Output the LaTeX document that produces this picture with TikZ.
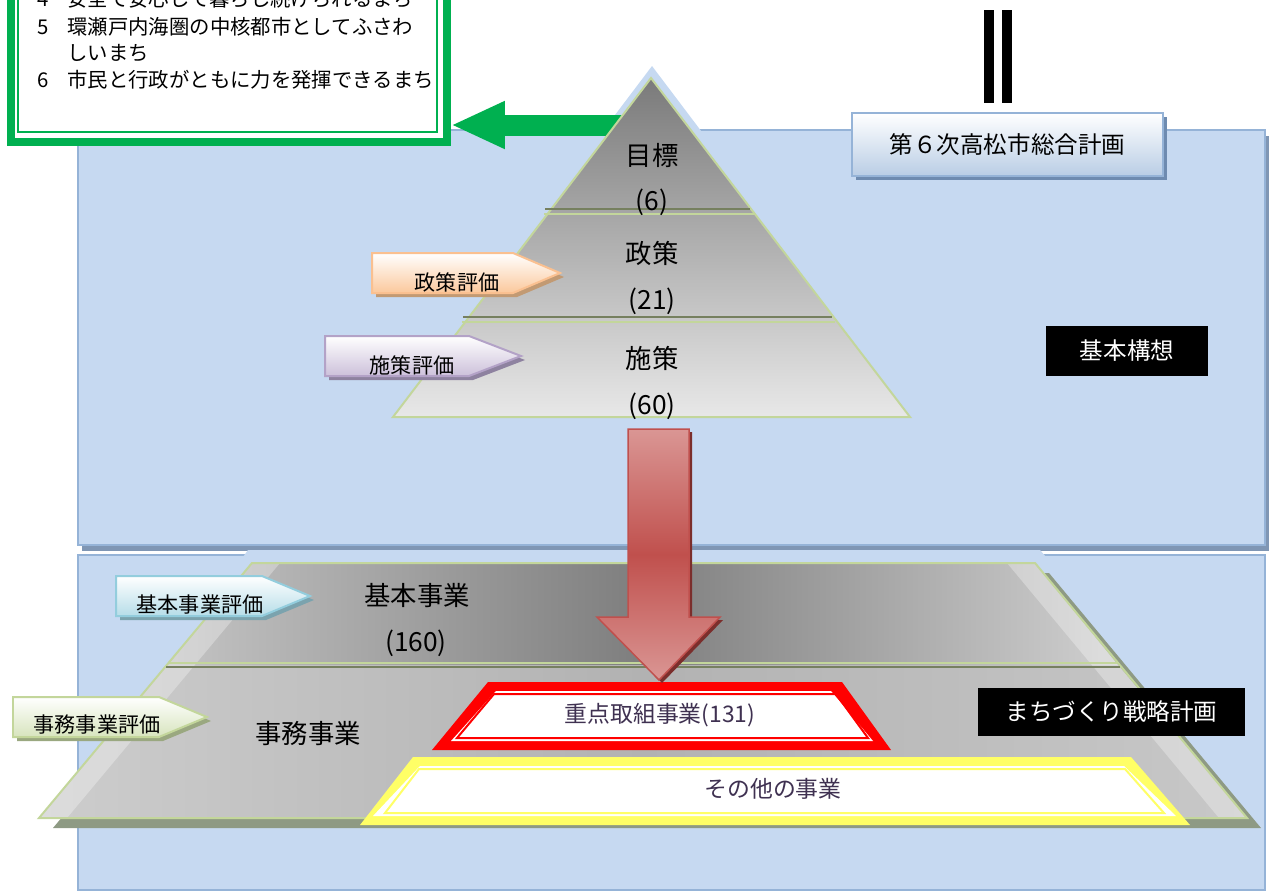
\documentclass[tikz,border=0pt]{standalone}
\usepackage{fontspec}
\setmainfont{Noto Sans CJK JP}
\usetikzlibrary{arrows.meta}

\definecolor{panelblue}{HTML}{C6D9F1}
\definecolor{panelline}{HTML}{95B3D7}
\definecolor{panelshadow}{HTML}{7F96B4}
\definecolor{goalgreen}{HTML}{00B050}
\definecolor{pyrgreen}{HTML}{C3D69B}
\definecolor{pyrdark}{HTML}{76805F}
\definecolor{pyrtop}{HTML}{7A7A7A}
\definecolor{pyrbottom}{HTML}{E8E8E8}
\definecolor{bandlight}{HTML}{C4C4C4}
\definecolor{bandmid}{HTML}{7E7E7E}
\definecolor{bandright}{HTML}{D0D0D0}
\definecolor{lowleft}{HTML}{CDCDCD}
\definecolor{lowmid}{HTML}{B2B2B2}
\definecolor{lowright}{HTML}{C8C8C8}
\definecolor{titlebottom}{HTML}{B9CDE5}
\definecolor{titleshadow}{HTML}{6E8BB0}
\definecolor{orangeline}{HTML}{FAC090}
\definecolor{orangefill}{HTML}{FBC89C}
\definecolor{orangeshadow}{HTML}{C29A73}
\definecolor{purpleline}{HTML}{B3A2C7}
\definecolor{purplefill}{HTML}{CCC0DA}
\definecolor{purpleshadow}{HTML}{8E82A0}
\definecolor{blueline}{HTML}{93CDDD}
\definecolor{bluefill}{HTML}{B6DDE8}
\definecolor{blueshadow}{HTML}{7BA3AE}
\definecolor{greenline}{HTML}{C3D69B}
\definecolor{greenfill}{HTML}{D7E4BD}
\definecolor{greenshadow}{HTML}{9AA880}
\definecolor{trapshadow}{HTML}{8E9A84}
\definecolor{focusred}{HTML}{FF0000}
\definecolor{otheryellow}{HTML}{FFFF66}
\definecolor{bandtext}{HTML}{3F3151}
\definecolor{arrowlight}{HTML}{DA9694}
\definecolor{arrowdark}{HTML}{C0504D}
\definecolor{arrowshadow}{HTML}{7B2E2C}

\tikzset{
  panel/.style={fill=panelblue, draw=panelline, line width=0.04cm},
  pyrline/.style={draw=pyrgreen, line width=0.04cm},
  bigtext/.style={inner sep=0pt, font=\fontsize{15}{18}\selectfont},
  evaltext/.style={inner sep=0pt, font=\fontsize{12}{14}\selectfont},
  goaltext/.style={inner sep=0pt, anchor=west, font=\fontsize{11.6}{14}\selectfont},
  evalbox/.style={top color=white, bottom color=#1, line width=0.04cm},
  blackbox/.style={fill=black, text=white, inner sep=0pt, font=\fontsize{13.4}{16}\selectfont},
  bandtext/.style={inner sep=0pt, text=bandtext, font=\fontsize{13}{16}\selectfont}
}

\begin{document}
\begin{tikzpicture}[x=0.02cm, y=-0.02cm]
\useasboundingbox (0,0) rectangle (1274,893);

% panels
\draw[panel] (78,555) rectangle (1265,890);
\fill[panelshadow, shift={(4,6)}] (78,130) rectangle (1265,545);
\draw[panel] (78,130) rectangle (1265,545);
\fill[panelblue] (248,550) -- (1040,550) -- (1046,557) -- (243,557) -- cycle;

% title
\fill[titleshadow] (856,117) rectangle (1167,180);
\node[draw=panelline, line width=0.04cm, top color=white, bottom color=titlebottom,
  minimum width=6.22cm, minimum height=1.26cm, inner sep=0pt,
  font=\fontsize{13.4}{16}\selectfont] (sogo) at (1007.5,144.5) {第６次高松市総合計画};
\fill (984,10) rectangle (994,103);
\fill (1002,10) rectangle (1012,103);

% goals
\node[draw=goalgreen, fill=white, line width=0.16cm, minimum width=8.72cm,
  minimum height=3.16cm, inner sep=0pt] (goals) at (229,63) {};
\draw[goalgreen, line width=0.04cm] (18,-20) rectangle (437,132);
\node[goaltext] (num4) at (37,-1) {4};
\node[goaltext] (goal4) at (67,-1) {安全で安心して暮らし続けられるまち};
\node[goaltext] (num5) at (37,27) {5};
\node[goaltext] (goal5) at (67,27) {環瀬戸内海圏の中核都市としてふさわ};
\node[goaltext] (goal5b) at (67,53) {しいまち};
\node[goaltext] (num6) at (37,80) {6};
\node[goaltext] (goal6) at (67,80) {市民と行政がともに力を発揮できるまち};

% pyramid
\fill[panelblue] (652,66) -- (380,426) -- (924,426) -- cycle;
\coordinate (garrow) at (630,125);
\draw[goalgreen, line width=0.42cm, -{Triangle[length=1.08cm, width=0.88cm]}]
  (garrow) -- (goals.east |- garrow);
\shade[top color=pyrtop, bottom color=pyrbottom] (651,78) -- (393,417) -- (910,417) -- cycle;
\draw[pyrline] (651,78) -- (393,417) -- (910,417) -- cycle;
\draw[pyrdark, line width=0.05cm] (545,209) -- (750,209);
\draw[pyrgreen, line width=0.05cm] (544,214) -- (754,214);
\draw[pyrdark, line width=0.05cm] (463,317) -- (832,317);
\draw[pyrgreen, line width=0.05cm] (462,322) -- (835,322);
\node[bigtext] (mokuhyo) at (652,155) {目標};
\node[bigtext] (mokuhyon) at (652,202) {(6)};
\node[bigtext] (seisaku) at (652,253) {政策};
\node[bigtext] (seisakun) at (652,301) {(21)};
\node[bigtext] (shisaku) at (652,358) {施策};
\node[bigtext] (shisakun) at (652,406) {(60)};

% lower pyramid
\fill[trapshadow, shift={(14,10)}] (252,563) -- (1035,563) -- (1247,818) -- (39,818) -- cycle;
\shade[left color=bandlight, right color=bandright, middle color=bandmid]
  (252,563) -- (1035,563) -- (1118,665) -- (167,665) -- cycle;
\shade[left color=lowleft, right color=lowright, middle color=lowmid]
  (167,665) -- (1118,665) -- (1247,818) -- (39,818) -- cycle;
\fill[white, opacity=0.3] (252,563) -- (280,563) -- (67,818) -- (39,818) -- cycle;
\fill[white, opacity=0.3] (1007,563) -- (1035,563) -- (1247,818) -- (1219,818) -- cycle;
\draw[pyrline] (252,563) -- (1035,563) -- (1247,818) -- (39,818) -- cycle;
\draw[pyrgreen, line width=0.05cm] (169,663) -- (1117,663);
\draw[pyrdark, line width=0.05cm] (166,667) -- (1120,667);
\node[bigtext] (kihonjigyo) at (417,595) {基本事業};
\node[bigtext] (kihonjigyon) at (416,643) {(160)};
\node[bigtext] (jimujigyo) at (308,733) {事務事業};

% focus and other projects
\fill[focusred] (488,682) -- (842,682) -- (891,750) -- (432,750) -- cycle;
\fill[white] (496,691) -- (831,691) -- (873,741) -- (451,741) -- cycle;
\draw[focusred, line width=0.04cm] (494,694) -- (836,694) -- (868,738) -- (457,738) -- cycle;
\node[bandtext] (juten) at (660,715) {重点取組事業(131)};
\fill[otheryellow] (413,757) -- (1131,757) -- (1190,825) -- (360,825) -- cycle;
\fill[white] (420,766) -- (1124,766) -- (1176,816) -- (373,816) -- cycle;
\draw[otheryellow, line width=0.04cm] (419,769) -- (1125,769) -- (1164,813) -- (385,813) -- cycle;
\node[bandtext] (sonota) at (773,789) {その他の事業};

% red arrow
\fill[arrowshadow, shift={(3,3)}] (628,429) -- (689,429) -- (689,617) -- (720,617)
  -- (659,680) -- (597,617) -- (628,617) -- cycle;
\shadedraw[top color=arrowlight, bottom color=arrowlight, middle color=arrowdark,
  draw=arrowdark, line width=0.03cm] (628,429) -- (689,429) -- (689,617) -- (720,617)
  -- (659,680) -- (597,617) -- (628,617) -- cycle;

% evaluation labels
\fill[orangeshadow, shift={(4,4)}] (372,253) -- (513,253) -- (560,273) -- (513,293) -- (372,293) -- cycle;
\draw[evalbox=orangefill, draw=orangeline] (372,253) -- (513,253) -- (560,273) -- (513,293) -- (372,293) -- cycle;
\node[evaltext] (seisakuhyoka) at (457,282) {政策評価};

\fill[purpleshadow, shift={(4,4)}] (325,336) -- (469,336) -- (521,356) -- (469,376) -- (325,376) -- cycle;
\draw[evalbox=purplefill, draw=purpleline] (325,336) -- (469,336) -- (521,356) -- (469,376) -- (325,376) -- cycle;
\node[evaltext] (shisakuhyoka) at (412,365) {施策評価};

\fill[blueshadow, shift={(4,4)}] (116,576) -- (262,576) -- (310,596) -- (262,616) -- (116,616) -- cycle;
\draw[evalbox=bluefill, draw=blueline] (116,576) -- (262,576) -- (310,596) -- (262,616) -- (116,616) -- cycle;
\node[evaltext] (kihonhyoka) at (200,604) {基本事業評価};

\fill[greenshadow, shift={(4,4)}] (13,697) -- (159,697) -- (207,717) -- (159,737) -- (13,737) -- cycle;
\draw[evalbox=greenfill, draw=greenline] (13,697) -- (159,697) -- (207,717) -- (159,737) -- (13,737) -- cycle;
\node[evaltext] (jimuhyoka) at (97,724) {事務事業評価};

% plan names
\node[blackbox, minimum width=3.24cm, minimum height=1.0cm] (koso) at (1127,351) {基本構想};
\node[blackbox, minimum width=5.34cm, minimum height=0.96cm] (senryaku) at (1111.5,712) {まちづくり戦略計画};
\end{tikzpicture}
\end{document}
